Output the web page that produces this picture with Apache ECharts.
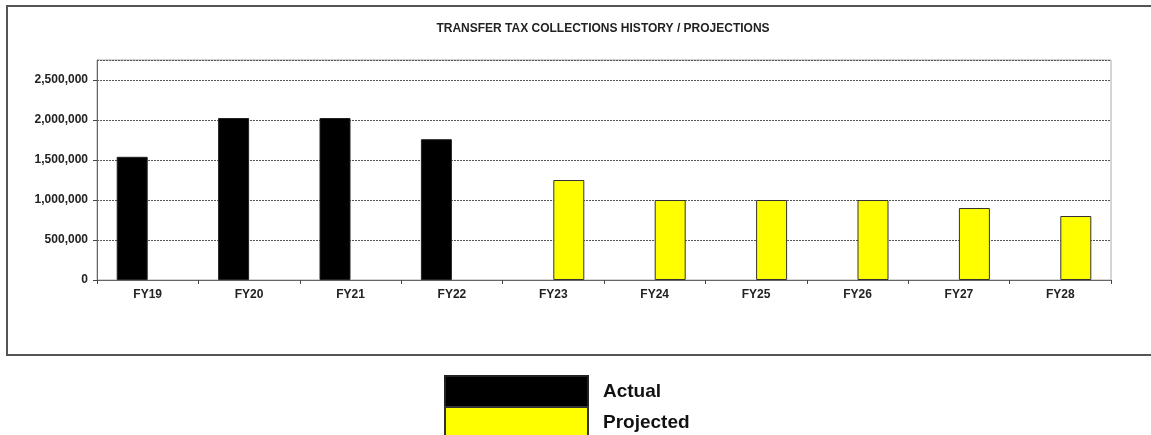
<!DOCTYPE html>
<html>
<head>
<meta charset="utf-8">
<script src="https://cdn.jsdelivr.net/npm/echarts@6/dist/echarts.min.js"></script>
<style>
  html, body { margin: 0; padding: 0; background: #fff; }
  #chart { width: 1151px; height: 435px; }
</style>
</head>
<body>
<div id="chart"></div>
<script>
// fiscal years on the x axis
var years = ['FY19', 'FY20', 'FY21', 'FY22', 'FY23', 'FY24', 'FY25', 'FY26', 'FY27', 'FY28'];
// actual collections (history)
var actual = [1540000, 2025000, 2025000, 1760000, null, null, null, null, null, null];
// projected collections
var projected = [null, null, null, null, 1250000, 1000000, 1000000, 1000000, 900000, 800000];
var yTicks = [0, 500000, 1000000, 1500000, 2000000, 2500000];

var myChart = echarts.init(document.getElementById('chart'));

function fmt(v) {
  return String(v).replace(/\B(?=(\d{3})+(?!\d))/g, ',');
}

// one legend block per row, the legend sits below the chart box
function legendRow(name, top) {
  return {
    orient: 'vertical',
    left: 444,
    top: top,
    padding: 0,
    itemWidth: 143,
    itemHeight: 31,
    icon: 'rect',
    textStyle: { fontFamily: 'Liberation Sans', fontSize: 19, fontWeight: 'bold', color: '#111', padding: [2, 0, 0, 10] },
    data: [name]
  };
}

option = {
  animation: false,
  backgroundColor: '#fff',
  title: {
    text: 'TRANSFER TAX COLLECTIONS HISTORY / PROJECTIONS',
    left: 598,
    textAlign: 'center',
    top: 18,
    textStyle: { fontFamily: 'Liberation Sans', fontSize: 12, fontWeight: 'bold', color: '#222' }
  },
  graphic: [{
    type: 'rect',
    shape: { x: 7, y: 6, width: 1160, height: 349 },
    style: { fill: 'none', stroke: '#555', lineWidth: 2 },
    silent: true
  }],
  legend: [legendRow('Actual', 375), legendRow('Projected', 406)],
  grid: {
    left: 97, right: 40, top: 60, bottom: 155,
    show: true, borderColor: '#aaa', borderWidth: 1
  },
  xAxis: {
    type: 'category',
    data: years,
    axisLine: { lineStyle: { color: '#666', width: 1 } },
    axisTick: { show: true, length: 4, lineStyle: { color: '#444' } },
    axisLabel: { margin: 9, fontFamily: 'Liberation Sans', fontSize: 12, fontWeight: 'bold', color: '#222' }
  },
  yAxis: {
    type: 'value',
    min: 0,
    max: 2750000,
    interval: 500000,
    axisLine: { show: true, lineStyle: { color: '#666', width: 1 } },
    axisTick: { show: true, length: 4, lineStyle: { color: '#444' } },
    axisLabel: {
      margin: 9, fontFamily: 'Liberation Sans', fontSize: 12, fontWeight: 'bold', color: '#222',
      showMaxLabel: false,
      formatter: function (v) { return yTicks.indexOf(v) >= 0 ? fmt(v) : ''; }
    },
    splitLine: {
      show: true,
      lineStyle: { color: '#555', type: [2, 1], width: 1 }
    }
  },
  series: [{
    name: 'Actual',
    type: 'bar',
    data: actual,
    barWidth: 31,
    barGap: '0%',
    itemStyle: { color: '#000', borderColor: '#222', borderWidth: 1 }
  }, {
    name: 'Projected',
    type: 'bar',
    data: projected,
    barWidth: 31,
    itemStyle: { color: '#ffff00', borderColor: '#333', borderWidth: 1 }
  }]
};

myChart.setOption(option);
</script>
</body>
</html>
